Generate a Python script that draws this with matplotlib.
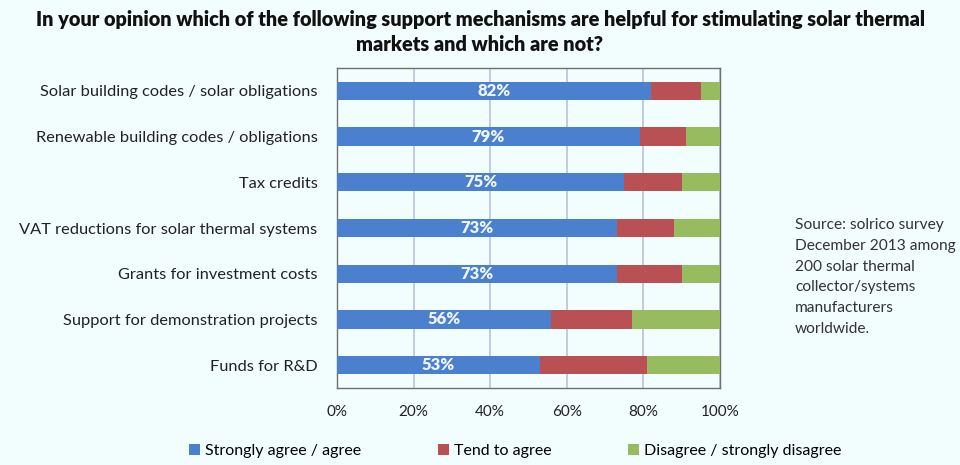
import matplotlib.pyplot as plt
from matplotlib.patches import Patch

categories = [
    "Solar building codes / solar obligations",
    "Renewable building codes / obligations",
    "Tax credits",
    "VAT reductions for solar thermal systems",
    "Grants for investment costs",
    "Support for demonstration projects",
    "Funds for R&D",
]
strongly_agree = [82, 79, 75, 73, 73, 56, 53]
tend_to_agree = [13, 12, 15, 15, 17, 21, 28]
disagree = [5, 9, 10, 12, 10, 23, 19]
series_names = ["Strongly agree / agree", "Tend to agree", "Disagree / strongly disagree"]
x_ticks = [0, 20, 40, 60, 80, 100]
x_tick_labels = ["0%", "20%", "40%", "60%", "80%", "100%"]

title = ("In your opinion which of the following support mechanisms are helpful for stimulating solar thermal\n"
         "markets and which are not?")
source_note = ("Source: solrico survey\nDecember 2013 among\n200 solar thermal\n"
               "collector/systems\nmanufacturers\nworldwide.")

bg = "#F2FDFD"
colors = ["#4A80CE", "#B85054", "#97BC60"]

plt.rcParams["font.family"] = ["Lato", "DejaVu Sans"]

fig = plt.figure(figsize=(9.6, 4.65), dpi=100, facecolor=bg)
ax = fig.add_axes([337 / 960, 1 - 388 / 465, (720 - 337) / 960, (388 - 68) / 465])
ax.set_facecolor(bg)

y = list(range(len(categories)))
left2 = [a + b for a, b in zip(strongly_agree, tend_to_agree)]
h = 0.40
ax.barh(y, strongly_agree, height=h, color=colors[0], zorder=3)
ax.barh(y, tend_to_agree, left=strongly_agree, height=h, color=colors[1], zorder=3)
ax.barh(y, disagree, left=left2, height=h, color=colors[2], zorder=3)

for yi, v in zip(y, strongly_agree):
    ax.text(v / 2, yi, f"{v}%", ha="center", va="center", color="#EEF4FB",
            fontsize=12, fontweight="heavy", zorder=4)

ax.set_xlim(0, 100)
ax.set_ylim(len(categories) - 0.5, -0.5)
ax.set_xticks(x_ticks)
ax.set_xticklabels(x_tick_labels, fontsize=11, color="#222222")
ax.set_yticks(y)
ax.set_yticklabels(categories, fontsize=11.8, color="#222222")
ax.tick_params(axis="y", length=0, pad=14)
ax.tick_params(axis="x", length=0, pad=12)
ax.xaxis.grid(True, color="#B8C4D8", linewidth=1.2, zorder=0)
for s in ax.spines.values():
    s.set_color("#707070")
    s.set_linewidth(1.0)

fig.text(0.5, 1 - 32 / 465, title, ha="center", va="center", fontsize=14.3,
         fontweight="heavy", color="#111111", linespacing=1.42)

fig.text(795 / 960, 1 - 218 / 465, source_note, ha="left", va="top", fontsize=11.2,
         color="#333333", linespacing=1.62)

handles = [Patch(facecolor=c, edgecolor="none") for c in colors]
fig.legend(handles, series_names, loc="center", bbox_to_anchor=(515 / 960, 1 - 451 / 465),
           ncol=3, frameon=False, fontsize=11.5, handlelength=0.7, handleheight=0.7,
           handletextpad=0.3, columnspacing=4.8)

fig.savefig("out.png", dpi=100, facecolor=bg)
